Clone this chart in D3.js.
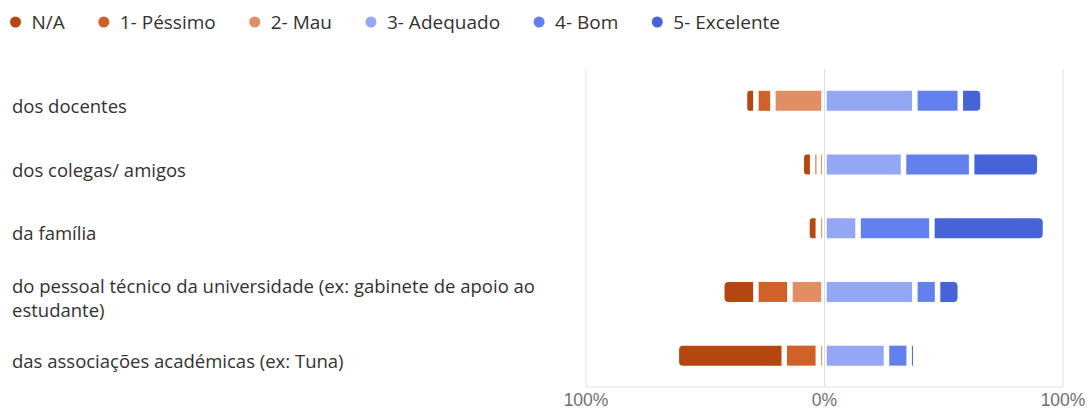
<!DOCTYPE html>
<html>
<head>
<meta charset="utf-8">
<script src="https://cdn.jsdelivr.net/npm/d3@7"></script>
<style>
  body { margin: 0; background: #fff; }
  svg { font-family: "Segoe UI", "Open Sans", sans-serif; }
  .row-label { fill: #323130; font-size: 18.5px; }
  .legend text { fill: #323130; font-size: 19px; }
  .x-axis text { fill: #707070; font-size: 17.5px; }
</style>
</head>
<body>
<svg id="chart" width="1089" height="410"></svg>
<script>
const CATEGORIES = ["N/A", "1- Péssimo", "2- Mau", "3- Adequado", "4- Bom", "5- Excelente"];
const COLORS = ["#B5460F", "#D06128", "#E18E65", "#94A7F5", "#6380EF", "#4763D8"];
const QUESTIONS = [
  "dos docentes",
  "dos colegas/ amigos",
  "da família",
  "do pessoal técnico da universidade (ex: gabinete de apoio ao estudante)",
  "das associações académicas (ex: Tuna)"
];
// respostas por categoria (N/A, 1, 2, 3, 4, 5)
const COUNTS = [
  [2, 3, 9, 16, 8, 4],
  [2, 1, 1, 14, 12, 12],
  [2, 0, 1, 6, 13, 20],
  [6, 6, 6, 16, 4, 4],
  [19, 6, 1, 11, 4, 1]
];
const NEGATIVE = [0, 1, 2];   // desenhados para a esquerda do 0
const TICKS = [-100, 0, 100];

let svg = d3.select('#chart')

let x = d3.scaleLinear().domain([-100, 100]).range([585.5, 1062.5])
let y = d3.scaleBand().domain(d3.range(QUESTIONS.length)).range([69, 387.5])

const barH = 20
const gap = 2.75

// linhas de grelha verticais
svg.append('g')
  .attr('transform', 'translate(0,387)')
  .call(d3.axisBottom(x).tickValues(TICKS).tickSize(-318).tickFormat(''))
  .call(g => g.select('.domain').remove())
  .call(g => g.selectAll('line').attr('stroke', '#e1dfdd'))

// eixo inferior
svg.append('g')
  .attr('class', 'x-axis')
  .attr('transform', 'translate(0,386.5)')
  .call(d3.axisBottom(x).tickValues(TICKS).tickSize(0).tickPadding(7)
    .tickFormat(d => Math.abs(d) + '%'))
  .call(g => g.select('.domain').attr('stroke', '#e1dfdd'))

let roundedPath = (x0, y0, w, h, rl, rr) => {
  return 'M' + (x0 + rl) + ',' + y0 +
    'H' + (x0 + w - rr) +
    (rr ? 'A' + rr + ',' + rr + ' 0 0 1 ' + (x0 + w) + ',' + (y0 + rr) : '') +
    'V' + (y0 + h - rr) +
    (rr ? 'A' + rr + ',' + rr + ' 0 0 1 ' + (x0 + w - rr) + ',' + (y0 + h) : '') +
    'H' + (x0 + rl) +
    (rl ? 'A' + rl + ',' + rl + ' 0 0 1 ' + x0 + ',' + (y0 + h - rl) : '') +
    'V' + (y0 + rl) +
    (rl ? 'A' + rl + ',' + rl + ' 0 0 1 ' + (x0 + rl) + ',' + y0 : '') + 'Z'
}

// segmentos de cada linha
let segments = []
COUNTS.forEach((row, r) => {
  let total = d3.sum(row)
  let pct = row.map(v => v / total * 100)
  // lado negativo: 2- Mau junto ao 0, depois 1- Péssimo, depois N/A
  let pos = 0
  let negOrder = NEGATIVE.slice().reverse()
  let lastNeg = negOrder.filter(c => row[c] > 0).pop()
  negOrder.forEach(c => {
    if (row[c] === 0) return
    segments.push({ row: r, cat: c, start: pos - pct[c], end: pos, outerLeft: c === lastNeg })
    pos -= pct[c]
  })
  pos = 0
  let posOrder = [3, 4, 5]
  let lastPos = posOrder.filter(c => row[c] > 0).pop()
  posOrder.forEach(c => {
    if (row[c] === 0) return
    segments.push({ row: r, cat: c, start: pos, end: pos + pct[c], outerRight: c === lastPos })
    pos += pct[c]
  })
})

svg.append('g')
  .selectAll('path')
  .data(segments)
  .enter()
  .append('path')
  .attr('fill', d => COLORS[d.cat])
  .attr('d', d => {
    let x0 = x(d.start) + gap
    let w = Math.max(x(d.end) - x(d.start) - 2 * gap, 1)
    let r = Math.min(4, w / 2)
    let y0 = y(d.row) + y.bandwidth() / 2 - barH / 2
    return roundedPath(x0, y0, w, barH, d.outerLeft ? r : 0, d.outerRight ? r : 0)
  })

// rótulos das perguntas, com quebra de linha
let wrapLabel = (textSel, maxWidth) => {
  textSel.each(function (d) {
    let text = d3.select(this)
    let words = d.split(' ')
    let line = []
    let lines = []
    let tspan = text.append('tspan').attr('x', 12)
    words.forEach(w => {
      line.push(w)
      tspan.text(line.join(' '))
      if (tspan.node().getComputedTextLength() > maxWidth && line.length > 1) {
        line.pop()
        lines.push(line.join(' '))
        line = [w]
        tspan.text(w)
      }
    })
    lines.push(line.join(' '))
    text.text(null)
    lines.forEach((l, i) => {
      text.append('tspan').attr('x', 12).attr('dy', i === 0 ? 0 : 24).text(l)
    })
    let cy = y(QUESTIONS.indexOf(d)) + y.bandwidth() / 2
    text.attr('y', cy + 12 - (lines.length - 1) * 10.5)
  })
}

svg.append('g')
  .selectAll('text')
  .data(QUESTIONS)
  .enter()
  .append('text')
  .attr('class', 'row-label')
  .call(wrapLabel, 550)

// legenda
let legend = svg.append('g').attr('class', 'legend')
let lx = 15.5
CATEGORIES.forEach((c, i) => {
  let item = legend.append('g').attr('transform', 'translate(' + lx + ',22)')
  item.append('circle').attr('r', 5.5).attr('fill', COLORS[i])
  let t = item.append('text').attr('x', 16).attr('y', 6.5).text(c)
  lx += 16 + t.node().getComputedTextLength() + 39
})
</script>
</body>
</html>
